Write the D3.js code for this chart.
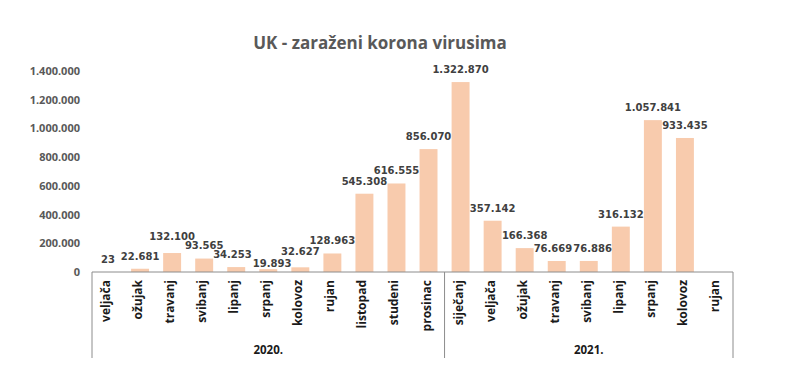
<!DOCTYPE html>
<html>
<head>
<meta charset="utf-8">
<script src="https://cdn.jsdelivr.net/npm/d3@7"></script>
<style>
  body { margin: 0; background: #fff; }
  svg { display: block; }
</style>
</head>
<body>
<div id="chart"></div>
<script>
const months2020 = ["veljača", "ožujak", "travanj", "svibanj", "lipanj", "srpanj", "kolovoz", "rujan", "listopad", "studeni", "prosinac"];
const values2020 = [23, 22681, 132100, 93565, 34253, 19893, 32627, 128963, 545308, 616555, 856070];
const months2021 = ["siječanj", "veljača", "ožujak", "travanj", "svibanj", "lipanj", "srpanj", "kolovoz", "rujan"];
const values2021 = [1322870, 357142, 166368, 76669, 76886, 316132, 1057841, 933435, null];
const years = ["2020.", "2021."];
const yTicks = [0, 200000, 400000, 600000, 800000, 1000000, 1200000, 1400000];

const w = 786;
const h = 380;
const plotLeft = 92, plotRight = 733, plotTop = 71, plotBottom = 272;

const rows = [];
months2020.forEach((m, i) => rows.push({ key: "2020-" + i, month: m, value: values2020[i] }));
months2021.forEach((m, i) => rows.push({ key: "2021-" + i, month: m, value: values2021[i] }));

const loc = d3.formatLocale({ decimal: ",", thousands: ".", grouping: [3], currency: ["", ""] });
const fmt = loc.format(",d");

const svg = d3.select("#chart").append("svg").attr("width", w).attr("height", h);

svg.append("text")
  .attr("x", 380).attr("y", 49)
  .attr("text-anchor", "middle")
  .attr("font-family", "Open Sans, sans-serif")
  .attr("font-weight", "bold")
  .attr("font-size", 17)
  .attr("fill", "#595959")
  .text("UK - zaraženi korona virusima");

const x = d3.scaleBand().domain(rows.map(d => d.key)).range([plotLeft, plotRight]).paddingInner(0.44).paddingOuter(0.22);
const y = d3.scaleLinear().domain([0, 1400000]).range([plotBottom, plotTop]);

// y axis labels only
const yAxis = d3.axisLeft(y).tickValues(yTicks).tickFormat(fmt).tickSize(0).tickPadding(0);
const gy = svg.append("g").attr("transform", "translate(80,0)").call(yAxis);
gy.select(".domain").remove();
gy.selectAll("text")
  .attr("font-family", "Open Sans, sans-serif")
  .attr("font-weight", "bold")
  .attr("font-size", 11)
  .attr("fill", "#595959");

const withValue = rows.filter(d => d.value != null);

// bars
svg.selectAll("rect.bar")
  .data(withValue)
  .enter()
  .append("rect")
  .attr("class", "bar")
  .attr("x", d => x(d.key))
  .attr("y", d => y(d.value))
  .attr("width", x.bandwidth())
  .attr("height", d => plotBottom - y(d.value))
  .attr("fill", "#F8CBAD");

// data labels
const labels = svg.selectAll("text.lbl")
  .data(withValue)
  .enter()
  .append("text")
  .attr("class", "lbl")
  .attr("text-anchor", "middle")
  .attr("font-family", "DejaVu Sans, sans-serif")
  .attr("font-weight", "bold")
  .attr("font-size", 10)
  .attr("fill", "#404040")
  .text(d => fmt(d.value));

// start above the bar, then nudge neighbours apart like Excel does
labels.each(function (d) {
  d.lx = x(d.key) + x.bandwidth() / 2;
  d.ly = y(d.value) - 9;
  d.lw = this.getComputedTextLength();
});
const capH = 8, gap = 1;
for (let pass = 0; pass < 12; pass++) {
  for (let i = 1; i < withValue.length; i++) {
    const a = withValue[i - 1], b = withValue[i];
    const ox = Math.min(a.lx + a.lw / 2, b.lx + b.lw / 2) - Math.max(a.lx - a.lw / 2, b.lx - b.lw / 2) + gap;
    const oy = Math.min(a.ly, b.ly) - Math.max(a.ly - capH, b.ly - capH) + gap;
    if (ox <= 0 || oy <= 0) continue;
    if (Math.abs(a.ly - b.ly) < 1) {
      a.lx -= ox / 2;
      b.lx += ox / 2;
    } else {
      const hi = a.ly < b.ly ? a : b;
      const lo = hi === a ? b : a;
      let down = oy / 2;
      if (lo.ly + down > plotBottom - 2) down = Math.max(0, plotBottom - 2 - lo.ly);
      lo.ly += down;
      hi.ly -= oy - down;
    }
  }
}
labels.attr("x", d => d.lx).attr("y", d => d.ly);

// x axis line and group separators
const split = plotLeft + months2020.length * (plotRight - plotLeft) / rows.length;
svg.append("line").attr("x1", plotLeft).attr("x2", plotRight).attr("y1", plotBottom).attr("y2", plotBottom)
  .attr("stroke", "#8c8c8c").attr("stroke-width", 1);
[plotLeft, split, plotRight].forEach(xx => {
  svg.append("line").attr("x1", xx).attr("x2", xx).attr("y1", plotBottom).attr("y2", 358)
    .attr("stroke", "#8c8c8c").attr("stroke-width", 1);
});

// month labels
svg.selectAll("text.month")
  .data(rows)
  .enter()
  .append("text")
  .attr("class", "month")
  .attr("transform", d => "translate(" + (x(d.key) + x.bandwidth() / 2 + 2) + "," + (plotBottom + 8) + ") rotate(-90)")
  .attr("text-anchor", "end")
  .attr("font-family", "Open Sans, sans-serif")
  .attr("font-weight", "bold")
  .attr("font-size", 12)
  .attr("fill", "#1a1a1a")
  .text(d => d.month);

// year labels
const yearMid = [(plotLeft + split) / 2, (split + plotRight) / 2];
svg.selectAll("text.year")
  .data(years)
  .enter()
  .append("text")
  .attr("class", "year")
  .attr("x", (d, i) => yearMid[i])
  .attr("y", 354)
  .attr("text-anchor", "middle")
  .attr("font-family", "Open Sans, sans-serif")
  .attr("font-weight", "bold")
  .attr("font-size", 11.5)
  .attr("fill", "#1a1a1a")
  .text(d => d);
</script>
</body>
</html>
